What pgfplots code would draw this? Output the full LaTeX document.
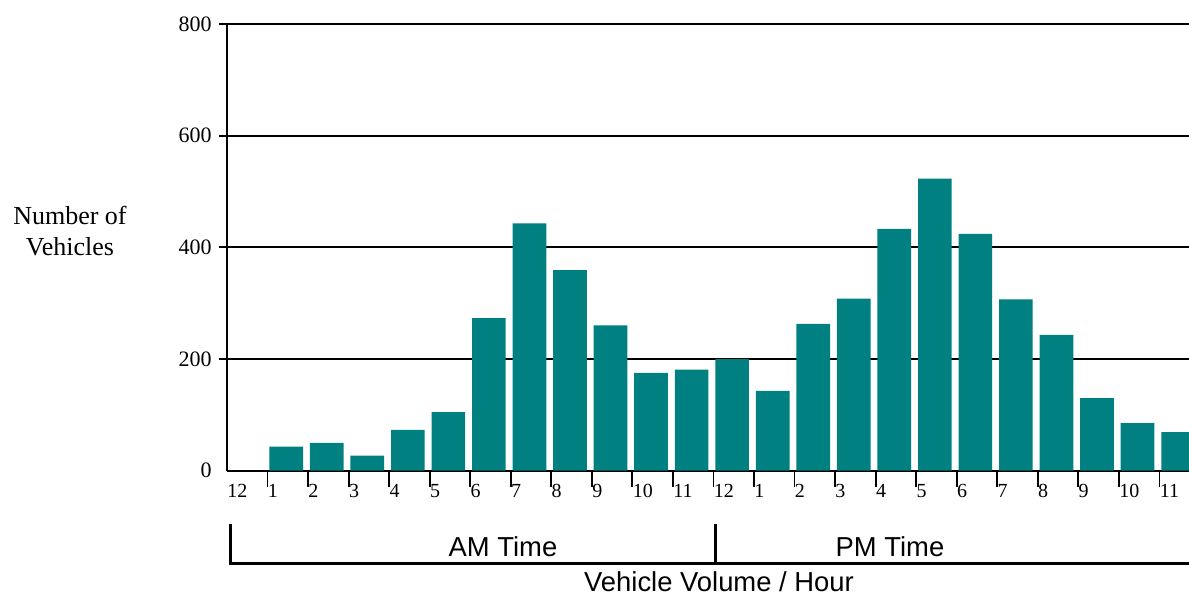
\documentclass[border=0pt]{standalone}
\usepackage{fontspec}
\setmainfont{Liberation Serif}
\newfontfamily\arialf{Liberation Sans}
\usepackage{pgfplots}
\pgfplotsset{compat=1.18}
\definecolor{barteal}{HTML}{008080}

\begin{document}
\begin{tikzpicture}
% 1 px of the reference = 0.5pt
\useasboundingbox (-113.5pt,-62.65pt) rectangle (481pt,235.35pt);
\begin{axis}[
  at={(0,0)}, anchor=south west,
  scale only axis,
  width=481pt, height=223.4pt,
  xmin=0, xmax=23.73,
  ymin=0, ymax=800,
  axis x line*=bottom, axis y line*=left,
  axis line style={line width=1pt, black},
  tick align=center,
  major tick length=8pt,
  tick style={line width=0.9pt, black},
  xtick={1,...,23},
  xticklabels={1,2,3,4,5,6,7,8,9,10,11,12,1,2,3,4,5,6,7,8,9,10,11},
  extra x ticks={0},
  extra x tick labels={12},
  extra x tick style={major tick style={draw=none}},
  xticklabel style={font=\fontsize{10}{12}\selectfont, anchor=north west, inner sep=0pt, yshift=1.35pt},
  ytick={200,400,600,800},
  extra y ticks={0},
  extra y tick labels={0},
  extra y tick style={major tick style={draw=none}},
  yticklabel style={font=\fontsize{11}{13}\selectfont, anchor=east, inner sep=0pt, xshift=-3.5pt},
  /pgf/number format/assume math mode=true,
  ymajorgrids,
  grid style={line width=0.9pt, black},
  ybar, bar width=0.83,
]
\addplot[fill=barteal, draw=none, bar shift=-0.8pt] table {
x y
1.5 43
2.5 50
3.5 27
4.5 73
5.5 105
6.5 273
7.5 443
8.5 359
9.5 260
10.5 175
11.5 181
12.5 200
13.5 143
14.5 263
15.5 308
16.5 433
17.5 523
18.5 424
19.5 307
20.5 243
21.5 130
22.5 85
23.5 69
};
\end{axis}
% AM / PM bracket under the axis
\draw[line width=1.5pt] (2pt,-26.65pt) -- (2pt,-46.4pt) -- (490pt,-46.4pt);
\draw[line width=1.5pt] (244pt,-26.65pt) -- (244pt,-46.4pt);
\node[font=\arialf\fontsize{13.7}{16}\selectfont, anchor=base, inner sep=0pt] at (138pt,-42.65pt) {AM Time};
\node[font=\arialf\fontsize{13.7}{16}\selectfont, anchor=base, inner sep=0pt] at (331.5pt,-42.65pt) {PM Time};
\node[font=\arialf\fontsize{13.7}{16}\selectfont, anchor=base, inner sep=0pt] at (246pt,-60.5pt) {Vehicle Volume / Hour};
\node[font=\fontsize{13}{15.5}\selectfont, align=center, inner sep=0pt] at (-78.5pt,119.85pt) {Number of\\Vehicles};
\end{tikzpicture}
\end{document}
